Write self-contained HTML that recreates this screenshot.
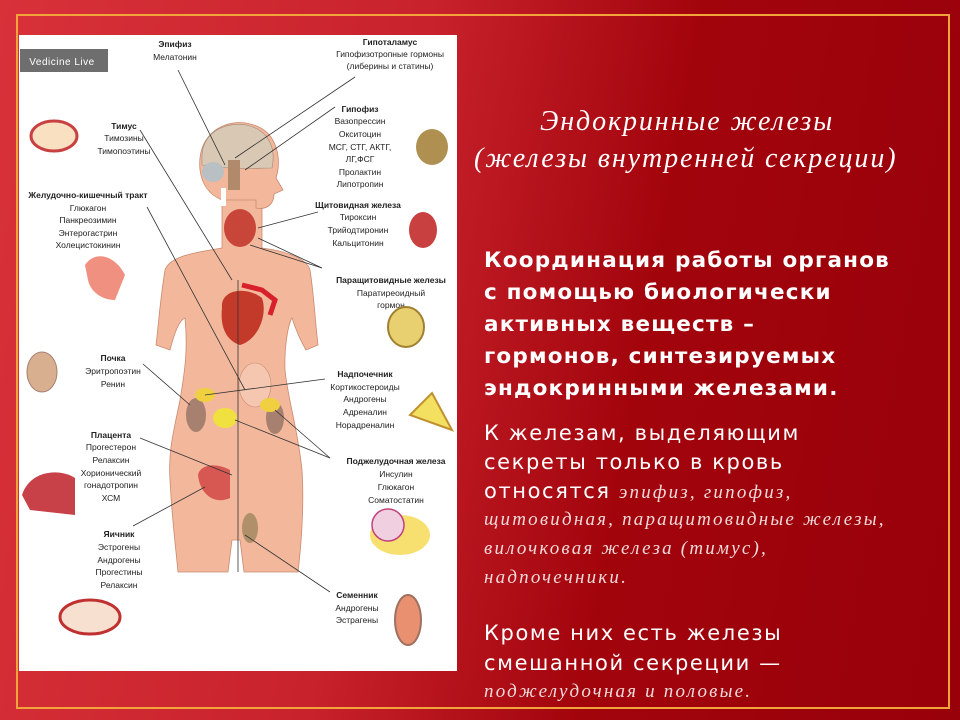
<!DOCTYPE html>
<html><head><meta charset="utf-8"><style>
*{margin:0;padding:0}
body{width:960px;height:720px;overflow:hidden;position:relative;background:linear-gradient(100deg,#d8313a 0%,#c8222c 40%,#a2040c 65%,#98000a 100%);font-family:"DejaVu Sans","Liberation Sans",sans-serif}
.frame{position:absolute;left:16px;top:14px;width:930px;height:691px;border:2px solid #f2a43a}
.panel{position:absolute;left:19px;top:35px;width:438px;height:636px;background:#fff}
.t{position:absolute;color:#fff;white-space:nowrap}
.ti{font-family:"Liberation Serif",serif;font-style:italic;font-size:28px;letter-spacing:1.9px}
.b{font-size:21.5px;letter-spacing:1.2px;font-weight:bold}
.n{font-size:21px;letter-spacing:1.6px}
.i{font-family:"Liberation Serif",serif;font-style:italic;font-size:19px;color:#f0dada;letter-spacing:2.2px}
svg text{font-family:"Liberation Sans",sans-serif;font-size:8.5px;fill:#222;text-anchor:middle}
svg text.h{font-weight:bold}
</style></head><body>
<div class="frame"></div>
<div class="panel"></div>
<svg style="position:absolute;left:0;top:0" width="960" height="720">
<rect x="20" y="49" width="88" height="23" fill="#6e6e6e"/>
<text x="62" y="65" style="fill:#fff;font-size:10px;letter-spacing:0.5px">Vedicine Live</text>
<g fill="#f3b89c" stroke="#c98a70" stroke-width="0.8">
<path d="M222,195 L222,248 C200,252 170,255 165,270 C160,300 158,330 156,345 L170,350 C175,330 180,320 185,318 C188,350 185,370 180,400 C174,430 168,450 170,480 C172,520 176,550 178,572 L228,572 L232,540 L240,540 L244,572 L298,572 C302,540 304,500 302,470 C298,430 288,400 285,370 C284,340 290,320 292,318 C296,330 300,340 306,350 L318,345 C315,320 314,295 310,270 C306,256 278,250 262,248 L262,200 Z"/>
<path d="M200,170 C196,130 230,118 250,124 C278,130 282,160 276,178 L283,190 L274,194 C274,205 266,210 256,208 L256,200 L222,200 C210,195 202,185 200,170 Z"/>
</g>
<path d="M202,160 C200,130 230,120 250,126 C270,132 276,150 272,168 C255,168 230,170 202,165Z" fill="#d9c8b4" stroke="#9a8a7a" stroke-width="0.6"/>
<ellipse cx="213" cy="172" rx="11" ry="10" fill="#b8c0c4"/>
<rect x="228" y="160" width="12" height="30" fill="#b08a6a"/>
<rect x="221" y="188" width="5" height="18" fill="#fff"/>
<ellipse cx="240" cy="228" rx="16" ry="19" fill="#c8453a"/>
<path d="M222,308 C220,290 245,285 262,298 C268,315 258,340 240,345 C225,340 220,325 222,308Z" fill="#c43a2a"/>
<path d="M242,285 L262,290 L275,300 L270,315" stroke="#d8202a" stroke-width="5" fill="none"/>
<ellipse cx="255" cy="385" rx="16" ry="22" fill="#f5c6b0" stroke="#c98a70" stroke-width="0.6"/>
<ellipse cx="196" cy="415" rx="10" ry="17" fill="#a88070"/>
<ellipse cx="275" cy="418" rx="9" ry="16" fill="#a88070"/>
<ellipse cx="205" cy="395" rx="10" ry="7" fill="#f0d040"/>
<ellipse cx="225" cy="418" rx="12" ry="10" fill="#f0e040"/>
<ellipse cx="270" cy="405" rx="10" ry="7" fill="#f0d040"/>
<path d="M198,475 C200,465 215,462 230,470 L230,498 C215,505 200,495 198,475Z" fill="#d04040" opacity="0.8"/>
<ellipse cx="250" cy="528" rx="8" ry="15" fill="#b0906a"/>
<g stroke="#333" stroke-width="0.8" fill="none">
<line x1="178" y1="70" x2="225" y2="165"/>
<line x1="355" y1="77" x2="235" y2="158"/>
<line x1="335" y1="107" x2="245" y2="170"/>
<line x1="140" y1="130" x2="232" y2="280"/>
<line x1="147" y1="207" x2="245" y2="390"/>
<line x1="238" y1="280" x2="238" y2="572"/>
<line x1="318" y1="212" x2="258" y2="228"/>
<line x1="322" y1="268" x2="250" y2="245"/>
<line x1="322" y1="268" x2="258" y2="238"/>
<line x1="143" y1="364" x2="190" y2="405"/>
<line x1="325" y1="379" x2="205" y2="395"/>
<line x1="330" y1="458" x2="235" y2="420"/>
<line x1="330" y1="458" x2="275" y2="410"/>
<line x1="140" y1="438" x2="232" y2="475"/>
<line x1="133" y1="526" x2="205" y2="487"/>
<line x1="330" y1="592" x2="245" y2="535"/>
</g>
<text class="h" x="175" y="47">Эпифиз</text><text x="175" y="60">Мелатонин</text>
<text class="h" x="390" y="45">Гипоталамус</text><text x="390" y="57">Гипофизотропные гормоны</text><text x="390" y="69">(либерины и статины)</text>
<text class="h" x="360" y="112">Гипофиз</text><text x="360" y="124">Вазопрессин</text><text x="360" y="137">Окситоцин</text><text x="360" y="150">МСГ, СТГ, АКТГ,</text><text x="360" y="162">ЛГ,ФСГ</text><text x="360" y="175">Пролактин</text><text x="360" y="187">Липотропин</text>
<text class="h" x="358" y="208">Щитовидная железа</text><text x="358" y="220">Тироксин</text><text x="358" y="233">Трийодтиронин</text><text x="358" y="246">Кальцитонин</text>
<text class="h" x="391" y="283">Паращитовидные железы</text><text x="391" y="296">Паратиреоидный</text><text x="391" y="308">гормон</text>
<text class="h" x="365" y="377">Надпочечник</text><text x="365" y="390">Кортикостероиды</text><text x="365" y="402">Андрогены</text><text x="365" y="415">Адреналин</text><text x="365" y="428">Норадреналин</text>
<text class="h" x="396" y="464">Поджелудочная железа</text><text x="396" y="477">Инсулин</text><text x="396" y="490">Глюкагон</text><text x="396" y="503">Соматостатин</text>
<text class="h" x="357" y="598">Семенник</text><text x="357" y="611">Андрогены</text><text x="357" y="623">Эстрагены</text>
<text class="h" x="124" y="129">Тимус</text><text x="124" y="141">Тимозины</text><text x="124" y="154">Тимопоэтины</text>
<text class="h" x="88" y="198">Желудочно-кишечный тракт</text><text x="88" y="211">Глюкагон</text><text x="88" y="223">Панкреозимин</text><text x="88" y="236">Энтерогастрин</text><text x="88" y="248">Холецистокинин</text>
<text class="h" x="113" y="361">Почка</text><text x="113" y="374">Эритропоэтин</text><text x="113" y="387">Ренин</text>
<text class="h" x="111" y="438">Плацента</text><text x="111" y="450">Прогестерон</text><text x="111" y="463">Релаксин</text><text x="111" y="476">Хорионический</text><text x="111" y="488">гонадотропин</text><text x="111" y="501">ХСМ</text>
<text class="h" x="119" y="537">Яичник</text><text x="119" y="550">Эстрогены</text><text x="119" y="563">Андрогены</text><text x="119" y="575">Прогестины</text><text x="119" y="588">Релаксин</text>
<ellipse cx="54" cy="136" rx="23" ry="15" fill="#f8e0c0" stroke="#c84040" stroke-width="3"/>
<path d="M85,265 C95,250 115,255 125,275 L115,300 C100,300 90,290 88,280Z" fill="#f09080"/>
<ellipse cx="42" cy="372" rx="15" ry="20" fill="#d8b090" stroke="#a88070"/>
<path d="M22,495 C30,470 60,468 75,478 L75,515 L30,510Z" fill="#c84048"/>
<ellipse cx="90" cy="617" rx="30" ry="17" fill="#f8e0d0" stroke="#c03030" stroke-width="3"/>
<ellipse cx="432" cy="147" rx="16" ry="18" fill="#b09050"/>
<ellipse cx="423" cy="230" rx="14" ry="18" fill="#c84040"/>
<ellipse cx="406" cy="327" rx="18" ry="20" fill="#e8d070" stroke="#a08030" stroke-width="2"/>
<path d="M410,415 L432,393 L452,430 Z" fill="#f4e060" stroke="#c09030" stroke-width="2"/>
<ellipse cx="400" cy="535" rx="30" ry="20" fill="#f8e070"/>
<circle cx="388" cy="525" r="16" fill="#f0d0e0" stroke="#c04080" stroke-width="1.5"/>
<ellipse cx="408" cy="620" rx="13" ry="25" fill="#e89070" stroke="#a07060" stroke-width="2"/>
</svg>
<div class="t ti" style="left:540px;top:106px">Эндокринные железы</div>
<div class="t ti" style="left:474px;top:143px">(железы внутренней секреции)</div>
<div class="t b" style="left:484px;top:248px">Координация работы органов</div>
<div class="t b" style="left:484px;top:280px">с помощью биологически</div>
<div class="t b" style="left:484px;top:312px">активных веществ –</div>
<div class="t b" style="left:484px;top:344px">гормонов, синтезируемых</div>
<div class="t b" style="left:484px;top:376px">эндокринными железами.</div>
<div class="t n" style="left:484px;top:421px">К железам, выделяющим</div>
<div class="t n" style="left:484px;top:450px">секреты только в кровь</div>
<div class="t n" style="left:484px;top:479px">относятся <span class="i">эпифиз, гипофиз,</span></div>
<div class="t i" style="left:484px;top:509px">щитовидная, паращитовидные железы,</div>
<div class="t i" style="left:484px;top:538px">вилочковая железа (тимус),</div>
<div class="t i" style="left:484px;top:567px">надпочечники.</div>
<div class="t n" style="left:484px;top:621px">Кроме них есть железы</div>
<div class="t n" style="left:484px;top:651px">смешанной секреции —</div>
<div class="t i" style="left:484px;top:681px">поджелудочная и половые.</div>
</body></html>
